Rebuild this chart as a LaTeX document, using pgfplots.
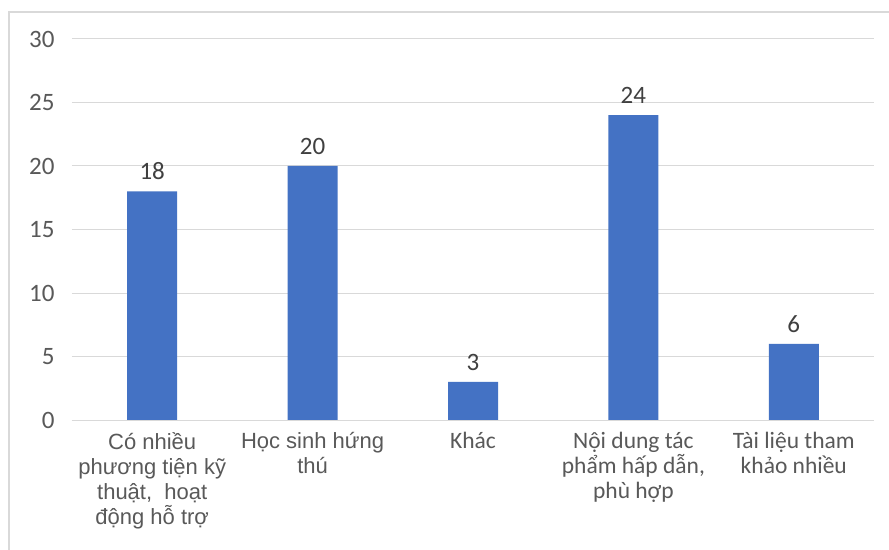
\documentclass[border=0pt]{standalone}
\usepackage{pgfplots}
\pgfplotsset{compat=1.18}
\usepackage{fontspec}
\setmainfont{Carlito}
\newfontfamily\arialf{Liberation Sans}
\definecolor{barblue}{HTML}{4472C4}
\definecolor{gridgray}{HTML}{D9D9D9}
\definecolor{txtgray}{HTML}{595959}
\definecolor{lblgray}{HTML}{404040}
\begin{document}
\begin{tikzpicture}
\useasboundingbox (0pt,0pt) rectangle (889pt,549pt);
\clip (0pt,0pt) rectangle (889pt,549pt);
\fill[white] (0pt,0pt) rectangle (889pt,549pt);
\draw[gridgray, line width=2pt] (9pt,-20pt) -- (9pt,537pt) -- (910pt,537pt);
\begin{axis}[
  at={(72pt,129pt)}, anchor=south west,
  scale only axis, width=802pt, height=381pt,
  ymin=0, ymax=30, ytick={0,5,...,30},
  xmin=-0.5, xmax=4.5,
  xtick={0,1,2,3,4},
  xticklabels={
    {\fontsize{22}{25}\arialf Có nhiều\\\fontsize{22}{25}\arialf phương tiện kỹ\\\fontsize{22}{25}\arialf thuật,\ \ hoạt\\\fontsize{22}{25}\arialf động hỗ trợ},
    {\fontsize{22}{25}\arialf Học sinh hứng\\\fontsize{22}{25}\arialf thú},
    {Khác},
    {Nội dung tác\\phẩm hấp dẫn,\\phù hợp},
    {Tài liệu tham\\khảo nhiều}},
  xticklabel style={align=center, anchor=north, yshift=-9pt, text=txtgray,
    font=\fontsize{23.5}{25}\selectfont},
  yticklabel style={text=txtgray, font=\fontsize{25}{28}\selectfont, xshift=-14pt},
  /pgf/number format/assume math mode=true,
  ymajorgrids, grid style={gridgray, line width=1pt},
  major tick length=0pt,
  axis line style={draw=none},
  ybar, bar width=50pt,
  nodes near coords,
  nodes near coords style={text=lblgray, font=\fontsize{25}{28}\selectfont, yshift=8pt},
  clip=false,
]
\addplot[fill=barblue, draw=none] coordinates {(0,18) (1,20) (2,3) (3,24) (4,6)};
\draw[gridgray, line width=1pt] (axis cs:-0.5,0) -- (axis cs:4.5,0);
\end{axis}
\end{tikzpicture}
\end{document}
